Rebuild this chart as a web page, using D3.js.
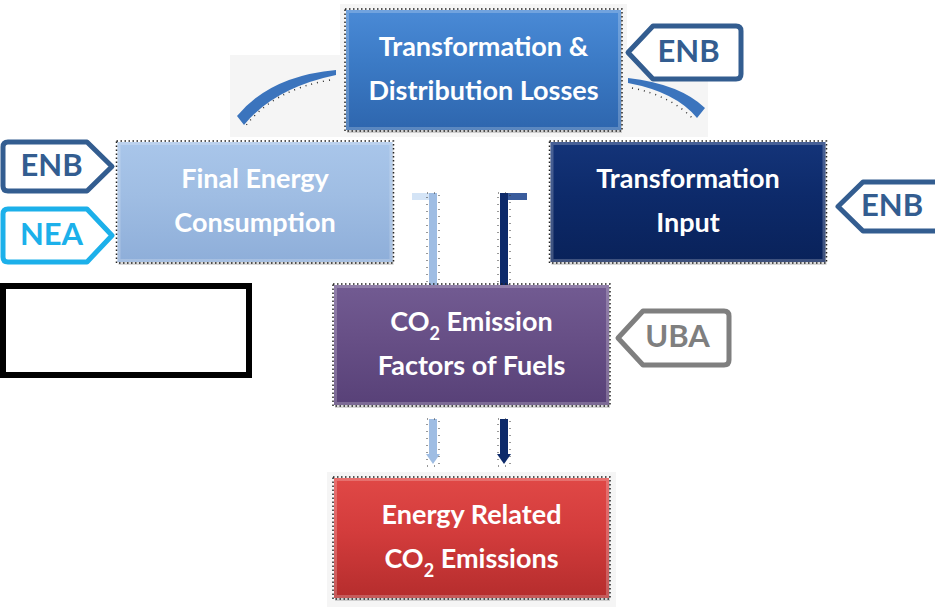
<!DOCTYPE html>
<html lang="en">
<head>
<meta charset="UTF-8">
<title>Energy related CO2 emissions - data flow</title>
<script src="https://cdnjs.cloudflare.com/ajax/libs/d3/7.8.5/d3.min.js"></script>
<style>
    body { margin: 0; background: #fff; }
    svg { display: block; font-family: Lato, "Open Sans", sans-serif; }
    .box-text { fill: #fff; font-weight: bold; font-size: 27px; text-anchor: middle; }
    .tag-text { font-weight: bold; font-size: 31px; text-anchor: middle; }
</style>
</head>
<body>
<script>
    // nodes of the diagram (text lines, "_2" marks a subscript 2)
    var boxNames = ["losses", "final", "input", "factors", "emissions"];
    var boxLines = [
        ["Transformation &", "Distribution Losses"],
        ["Final Energy", "Consumption"],
        ["Transformation", "Input"],
        ["CO_2 Emission", "Factors of Fuels"],
        ["Energy Related", "CO_2 Emissions"]
    ];
    var boxCol = ["center", "left", "right", "center", "center"];
    var boxRow = ["top", "mid", "mid", "factors", "bottom"];

    // data source tags
    var tagLabels = ["ENB", "ENB", "NEA", "ENB", "UBA"];
    var tagTargets = ["losses", "final", "final", "input", "factors"];

    // ---- styles / layout ----
    var boxColors = {
        losses: ["#4a8ad6", "#3b7ac5", "#2e66ae"],
        final: ["#a9c6ea", "#9fbde3", "#8eaed9"],
        input: ["#143479", "#0d2a6a", "#09225a"],
        factors: ["#725b92", "#674f86", "#584178"],
        emissions: ["#e04846", "#d33c3c", "#b52d2d"]
    };
    var tagColors = { ENB: "#335d90", NEA: "#1cb0ea", UBA: "#7f7f7f" };

    var W = 935, H = 608;
    var boxW = 275, boxH = 120;

    var x = d3.scalePoint().domain(["left", "center", "right"]).range([255, 688]);
    var y = d3.scaleOrdinal().domain(["top", "mid", "factors", "bottom"]).range([70, 202, 345, 538]);
    var xShift = { losses: 12 };

    var svg = d3.select("body").append("svg")
        .attr("width", W).attr("height", H);

    var defs = svg.append("defs");
    boxNames.forEach(function(n) {
        var g = defs.append("linearGradient").attr("id", "grad-" + n)
            .attr("x1", 0).attr("y1", 0).attr("x2", 0).attr("y2", 1);
        g.append("stop").attr("offset", "0%").attr("stop-color", boxColors[n][0]);
        g.append("stop").attr("offset", "45%").attr("stop-color", boxColors[n][1]);
        g.append("stop").attr("offset", "100%").attr("stop-color", boxColors[n][2]);
    });

    function cx(n) { var i = boxNames.indexOf(n); return x(boxCol[i]) + (xShift[n] || 0); }
    function cy(n) { var i = boxNames.indexOf(n); return y(boxRow[i]); }

    // light grey panels behind the top and bottom boxes
    svg.append("rect").attr("x", 230).attr("y", 55).attr("width", 478).attr("height", 82).attr("fill", "#f5f5f5");
    svg.append("rect").attr("x", cx("losses") - boxW / 2 - 6).attr("y", cy("losses") - boxH / 2 - 6)
        .attr("width", boxW + 12).attr("height", boxH + 12).attr("fill", "#f5f5f5");
    svg.append("rect").attr("x", cx("emissions") - boxW / 2 - 7).attr("y", cy("emissions") - boxH / 2 - 6)
        .attr("width", boxW + 14).attr("height", boxH + 15).attr("fill", "#f5f5f5");

    // curved tapered arrows from the losses box
    var curves = svg.append("g");
    curves.append("path")
        .attr("d", "M336,70 Q270,76 237,116 L244,125 Q274,88 336,75 Z")
        .attr("fill", "#3b74bd");
    curves.append("path").attr("d", "M330,80 Q272,90 244,128")
        .attr("fill", "none").attr("stroke", "#333").attr("stroke-width", 1.5).attr("stroke-dasharray", "1,5");
    curves.append("path")
        .attr("d", "M628,78 Q680,84 705,108 L697,118 Q676,92 628,83 Z")
        .attr("fill", "#3b74bd");
    curves.append("path").attr("d", "M632,88 Q672,96 694,120")
        .attr("fill", "none").attr("stroke", "#333").attr("stroke-width", 1.5).attr("stroke-dasharray", "1,5");

    // L-shaped connectors into the factors box
    var conn = [
        { c: "#9fbde3", hi: "#d4e4f6", x0: 412, x1: 437, vx: 429 },
        { c: "#0d2a6a", hi: "#3a5c9c", x0: 500, x1: 527, vx: 500 }
    ];
    conn.forEach(function(k) {
        svg.append("rect").attr("x", k.x0).attr("y", 193).attr("width", k.x1 - k.x0).attr("height", 7).attr("fill", k.hi);
        svg.append("rect").attr("x", k.vx).attr("y", 193).attr("width", 8).attr("height", 92).attr("fill", k.c);
        svg.append("rect").attr("x", k.vx - 2).attr("y", 193).attr("width", 12).attr("height", 92)
            .attr("fill", "none").attr("stroke", "#333").attr("stroke-width", 1).attr("stroke-dasharray", "1,6");
    });

    // down arrows into the emissions box
    [{ c: "#9fbde3", xx: 433 }, { c: "#0d2a6a", xx: 504 }].forEach(function(k) {
        svg.append("rect").attr("x", k.xx - 4).attr("y", 419).attr("width", 8).attr("height", 36).attr("fill", k.c);
        svg.append("path").attr("d", "M" + (k.xx - 7) + ",454 L" + (k.xx + 7) + ",454 L" + k.xx + ",464 Z").attr("fill", k.c);
        svg.append("rect").attr("x", k.xx - 6).attr("y", 419).attr("width", 12).attr("height", 47)
            .attr("fill", "none").attr("stroke", "#333").attr("stroke-width", 1).attr("stroke-dasharray", "1,6");
    });

    // boxes
    var boxes = svg.selectAll(".box").data(boxNames).enter().append("g")
        .attr("class", "box")
        .attr("transform", function(d) { return "translate(" + (cx(d) - boxW / 2) + "," + (cy(d) - boxH / 2) + ")"; });

    boxes.append("rect").attr("x", 1).attr("y", 3).attr("width", boxW).attr("height", boxH)
        .attr("fill", "#000").attr("opacity", 0.15);
    boxes.append("rect").attr("width", boxW).attr("height", boxH)
        .attr("fill", function(d) { return "url(#grad-" + d + ")"; });
    boxes.append("rect").attr("x", 1.5).attr("y", 1.5).attr("width", boxW - 3).attr("height", boxH - 3)
        .attr("fill", "none").attr("stroke", "#fff").attr("stroke-opacity", 0.22).attr("stroke-width", 3);
    boxes.append("rect").attr("x", -1).attr("y", -1).attr("width", boxW + 2).attr("height", boxH + 2)
        .attr("fill", "none").attr("stroke", "#222").attr("stroke-width", 1.5).attr("stroke-dasharray", "1.5,2.5");

    boxes.each(function(d, i) {
        var g = d3.select(this);
        boxLines[i].forEach(function(line, j) {
            var t = g.append("text").attr("class", "box-text")
                .attr("x", boxW / 2).attr("y", boxH / 2 + (j === 0 ? -23 : 21)).attr("dy", "0.35em");
            var parts = line.split("_2");
            if (parts.length > 1) {
                t.append("tspan").text(parts[0]);
                t.append("tspan").attr("dy", 9).attr("font-size", 18).text("2");
                t.append("tspan").attr("dy", -9).text(parts[1]);
            } else {
                t.text(line);
            }
        });
    });

    // empty black-framed box
    svg.append("rect").attr("x", 3).attr("y", 286).attr("width", 246).attr("height", 89)
        .attr("fill", "#fff").attr("stroke", "#000").attr("stroke-width", 6);

    // source tags
    var tagPos = [
        { side: "right", x0: 628, x1: 741, y0: 26, y1: 79 },
        { side: "left", x0: 3, x1: 112, y0: 142, y1: 191 },
        { side: "left", x0: 3, x1: 112, y0: 209, y1: 262 },
        { side: "right", x0: 838, x1: 945, y0: 182, y1: 231 },
        { side: "right", x0: 618, x1: 729, y0: 311, y1: 365 }
    ];
    function tagPath(p) {
        var d = 25, r = 5, m = (p.y0 + p.y1) / 2;
        if (p.side === "right") {
            return "M" + p.x0 + "," + m + " L" + (p.x0 + d) + "," + p.y0 +
                " L" + (p.x1 - r) + "," + p.y0 + " Q" + p.x1 + "," + p.y0 + " " + p.x1 + "," + (p.y0 + r) +
                " L" + p.x1 + "," + (p.y1 - r) + " Q" + p.x1 + "," + p.y1 + " " + (p.x1 - r) + "," + p.y1 +
                " L" + (p.x0 + d) + "," + p.y1 + " Z";
        }
        return "M" + p.x1 + "," + m + " L" + (p.x1 - d) + "," + p.y0 +
            " L" + (p.x0 + r) + "," + p.y0 + " Q" + p.x0 + "," + p.y0 + " " + p.x0 + "," + (p.y0 + r) +
            " L" + p.x0 + "," + (p.y1 - r) + " Q" + p.x0 + "," + p.y1 + " " + (p.x0 + r) + "," + p.y1 +
            " L" + (p.x1 - d) + "," + p.y1 + " Z";
    }

    var tags = svg.selectAll(".tag").data(tagLabels).enter().append("g").attr("class", "tag");
    tags.append("path")
        .attr("d", function(d, i) { return tagPath(tagPos[i]); })
        .attr("fill", "#fff")
        .attr("stroke", function(d) { return tagColors[d]; })
        .attr("stroke-width", 5)
        .attr("stroke-linejoin", "round");
    tags.append("text").attr("class", "tag-text")
        .attr("x", function(d, i) {
            var p = tagPos[i];
            if (tagTargets[i] === "input") return 892;
            return p.side === "right" ? (p.x0 + p.x1) / 2 + 4 : (p.x0 + p.x1) / 2 - 6;
        })
        .attr("y", function(d, i) { return (tagPos[i].y0 + tagPos[i].y1) / 2 - 2; })
        .attr("dy", "0.36em")
        .attr("fill", function(d) { return tagColors[d]; })
        .text(function(d) { return d; });
</script>
</body>
</html>
